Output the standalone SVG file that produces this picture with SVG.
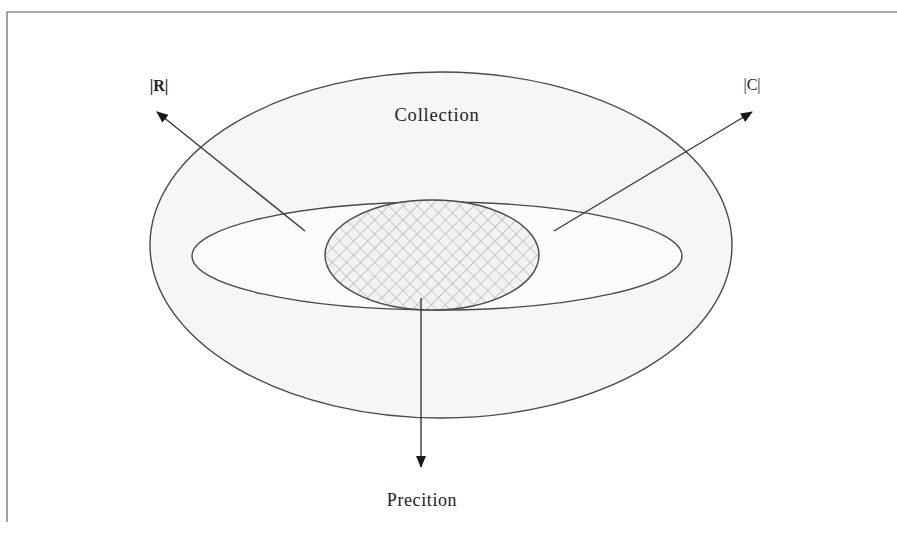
<svg xmlns="http://www.w3.org/2000/svg" width="897" height="541" viewBox="0 0 897 541">
<defs>
<style>
.shape{stroke:#4a4a4a;stroke-width:1.4}
.conn{stroke:#3a3a3a;stroke-width:1.4;fill:none;marker-end:url(#ah)}
.lbl{font-family:"Liberation Serif","Times New Roman",serif;fill:#222}
</style>
<marker id="ah" viewBox="0 0 12 10" refX="11" refY="5" markerWidth="12" markerHeight="10" markerUnits="userSpaceOnUse" orient="auto">
<path d="M0,0 L12,5 L0,10 Z" fill="#1a1a1a"/>
</marker>
<pattern id="hatch" width="10" height="10" patternUnits="userSpaceOnUse" patternTransform="rotate(45)">
<rect width="10" height="10" fill="#f2f2f2"/>
<path d="M0,0 H10 M0,0 V10" stroke="#a8a8a8" stroke-width="1.2"/>
</pattern>
</defs>
<rect width="897" height="541" fill="#ffffff"/>
<g id="frame">
<path d="M7,522 V12 H897" fill="none" stroke="#8a8a8a" stroke-width="1.6"/>
</g>
<g id="collection">
<ellipse class="shape" cx="441" cy="245" rx="291" ry="173" fill="#f6f6f6"/>
<text class="lbl" x="437" y="121" font-size="18.5" text-anchor="middle" letter-spacing="0.8">Collection</text>
</g>
<g id="retrieved">
<ellipse class="shape" cx="437" cy="256" rx="245" ry="54" fill="#fbfbfb"/>
</g>
<g id="relevant">
<ellipse class="shape" cx="432" cy="255" rx="107" ry="55" fill="url(#hatch)"/>
</g>
<g id="connectors">
<line class="conn" x1="305" y1="231" x2="157" y2="112"/>
<line class="conn" x1="554" y1="231" x2="752" y2="112"/>
<line class="conn" x1="421" y1="298" x2="421" y2="467"/>
</g>
<g id="label-R"><text class="lbl" x="159" y="91" font-size="16" font-weight="bold" text-anchor="middle">|R|</text></g>
<g id="label-C"><text class="lbl" x="752" y="90" font-size="16" text-anchor="middle">|C|</text></g>
<g id="label-P"><text class="lbl" x="422" y="506" font-size="18" text-anchor="middle" letter-spacing="0.6">Precition</text></g>
</svg>
